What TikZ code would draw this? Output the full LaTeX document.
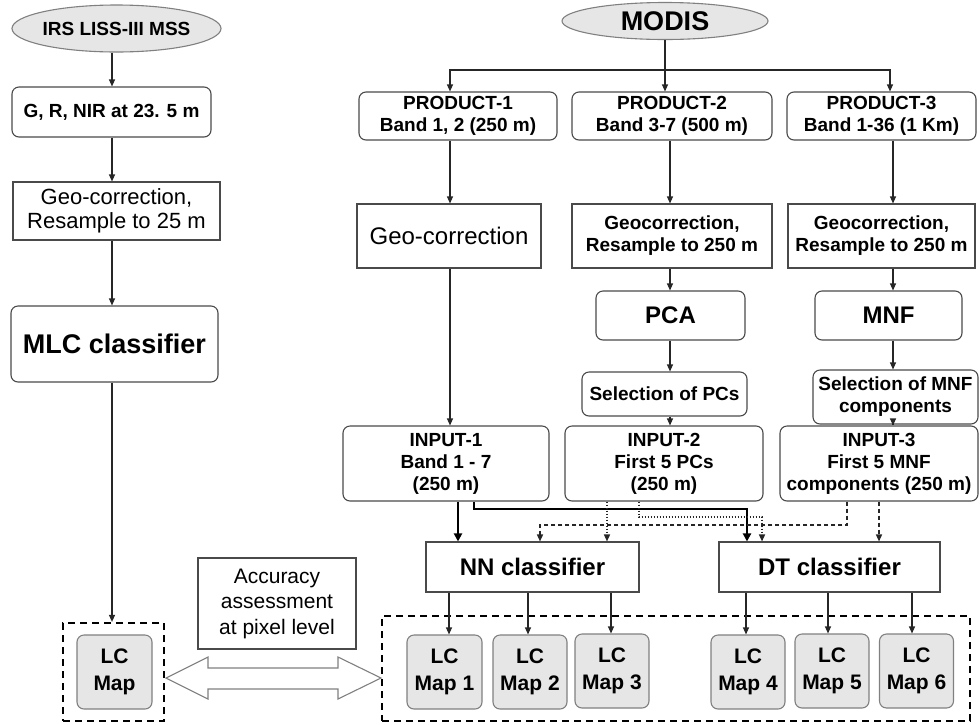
\documentclass[tikz,border=0pt]{standalone}
\usepackage{fontspec}
\setmainfont{Liberation Sans}
\usetikzlibrary{arrows.meta,shapes.geometric}
\definecolor{bd}{HTML}{4A4A4A}
\definecolor{fillg}{HTML}{E6E6E6}
\definecolor{ovalbd}{HTML}{808080}
\begin{document}
\begin{tikzpicture}[x=1pt,y=-1pt,
  base/.style={draw=bd, line width=1.1pt, inner sep=0pt, align=center, text=black},
  rbox/.style={base, rounded corners=7pt},
  sbox/.style={base},
  fb/.style={font=\bfseries\fontsize{19}{22}\selectfont},
  fr/.style={font=\fontsize{22}{24}\selectfont},
  oval/.style={base, ellipse, fill=fillg, draw=ovalbd},
  lcmap/.style={base, rounded corners=7pt, fill=fillg, draw=ovalbd,
    font=\bfseries\fontsize{21}{27}\selectfont, minimum width=74pt, minimum height=74pt},
  arr/.style={draw=black!85, line width=1.2pt, -{Triangle[length=7pt,width=6pt]}},
  plain/.style={draw=black!85, line width=1.2pt},
  tarr/.style={draw=black, line width=2.8pt, -{Triangle[length=8pt,width=8pt]}},
  dotarr/.style={draw=black!85, line width=1.4pt, dash pattern=on 1.4pt off 1.6pt, -{Triangle[length=7pt,width=6pt]}},
  dasharr/.style={draw=black!85, line width=1.4pt, dash pattern=on 4pt off 3pt, -{Triangle[length=7pt,width=6pt]}},
  grp/.style={draw=black, line width=2.2pt, dash pattern=on 7pt off 5pt, inner sep=0pt}
]
\useasboundingbox (0,0) rectangle (980,724);

% ---------- left column ----------
\node[oval, minimum width=207pt, minimum height=47pt, fb] (irs) at (116.5,28.5) {IRS LISS-III MSS};
\node[rbox, fb, minimum width=199pt, minimum height=50pt] (grn) at (111.5,112) {G, R, NIR at 23. 5 m};
\node[sbox, fr, minimum width=207pt, minimum height=58pt] (geol) at (116.5,211) {Geo-correction,\\Resample to 25 m};
\node[rbox, font=\bfseries\fontsize{27}{30}\selectfont, minimum width=207pt, minimum height=76pt] (mlc) at (114.5,344) {MLC classifier};
\node[grp, minimum width=101pt, minimum height=98pt] (lcl) at (113.5,672) {};
\node[lcmap, minimum width=75pt] (lcm) at (114.5,672) {LC\\Map};
\node[sbox, font=\fontsize{21}{25.5}\selectfont, minimum width=158pt, minimum height=91pt] (acc) at (277,603.5) {Accuracy\\assessment\\at pixel level};

\draw[arr] (112,0 |- irs.south) -- (112,0 |- grn.north);
\draw[arr] (112,0 |- grn.south) -- (112,0 |- geol.north);
\draw[arr] (112,0 |- geol.south) -- (112,0 |- mlc.north);
\draw[arr] (112,0 |- mlc.south) -- (112,0 |- lcl.north);

% ---------- right part ----------
\node[oval, minimum width=206pt, minimum height=37pt, font=\bfseries\fontsize{27}{30}\selectfont] (modis) at (665,21) {MODIS};
\node[rbox, fb, minimum width=198pt, minimum height=48pt] (p1) at (458,116) {PRODUCT-1\\Band 1, 2 (250 m)};
\node[rbox, fb, minimum width=200pt, minimum height=48pt] (p2) at (672,116) {PRODUCT-2\\Band 3-7 (500 m)};
\node[rbox, fb, minimum width=189pt, minimum height=48pt] (p3) at (881.5,116) {PRODUCT-3\\Band 1-36 (1 Km)};

\node[sbox, font=\fontsize{24}{27}\selectfont, minimum width=184pt, minimum height=64pt] (g1) at (449,236) {Geo-correction};
\node[sbox, fb, minimum width=200pt, minimum height=64pt] (g2) at (672,236) {Geocorrection,\\Resample to 250 m};
\node[sbox, fb, minimum width=187pt, minimum height=64pt] (g3) at (881.5,236) {Geocorrection,\\Resample to 250 m};

\node[rbox, font=\bfseries\fontsize{24}{27}\selectfont, minimum width=149pt, minimum height=49pt] (pca) at (670.5,315.5) {PCA};
\node[rbox, font=\bfseries\fontsize{24}{27}\selectfont, minimum width=147pt, minimum height=49pt] (mnf) at (888.5,315.5) {MNF};
\node[rbox, fb, minimum width=165pt, minimum height=44pt] (sp) at (664.5,394) {Selection of PCs};
\node[rbox, fb, minimum width=165pt, minimum height=54pt] (sm) at (895.5,397) {Selection of MNF\\components};

\node[rbox, fb, minimum width=206pt, minimum height=75pt] (in1) at (446,463.5) {INPUT-1\\Band 1 - 7\\(250 m)};
\node[rbox, fb, minimum width=198pt, minimum height=75pt] (in2) at (664,463.5) {INPUT-2\\First 5 PCs\\(250 m)};
\node[rbox, fb, minimum width=198pt, minimum height=75pt] (in3) at (879,463.5) {INPUT-3\\First 5 MNF\\components (250 m)};

\node[sbox, font=\bfseries\fontsize{24}{27}\selectfont, minimum width=213pt, minimum height=50pt] (nn) at (532.5,567) {NN classifier};
\node[sbox, font=\bfseries\fontsize{24}{27}\selectfont, minimum width=221pt, minimum height=50pt] (dt) at (829.5,567) {DT classifier};

\node[grp, minimum width=588pt, minimum height=105pt] (lcr) at (676,668.5) {};
\node[lcmap, minimum width=75pt] (m1) at (444.5,672) {LC\\Map 1};
\node[lcmap] (m2) at (530,672) {LC\\Map 2};
\node[lcmap] (m3) at (612,671) {LC\\Map 3};
\node[lcmap] (m4) at (748,672) {LC\\Map 4};
\node[lcmap] (m5) at (832,671) {LC\\Map 5};
\node[lcmap] (m6) at (916.5,671) {LC\\Map 6};

% MODIS fan-out
\coordinate (bar) at (665,70);
\draw[plain] (modis.south) -- (bar);
\draw[arr] (bar) -- (665,0 |- p2.north);
\draw[arr] (bar) -| (450,0 |- p1.north);
\draw[arr] (bar) -| (890,0 |- p3.north);

% column 1
\draw[arr] (450,0 |- p1.south) -- (450,0 |- g1.north);
\draw[arr] (450,0 |- g1.south) -- (450,0 |- in1.north);
% column 2
\draw[arr] (670,0 |- p2.south) -- (670,0 |- g2.north);
\draw[arr] (670,0 |- g2.south) -- (670,0 |- pca.north);
\draw[arr] (670,0 |- pca.south) -- (670,0 |- sp.north);
\draw[arr] (670,0 |- sp.south) -- (670,0 |- in2.north);
% column 3
\draw[arr] (893,0 |- p3.south) -- (893,0 |- g3.north);
\draw[arr] (893,0 |- g3.south) -- (893,0 |- mnf.north);
\draw[arr] (893,0 |- mnf.south) -- (893,0 |- sm.north);
\draw[arr] (893,0 |- sm.south) -- (893,0 |- in3.north);

% inputs to classifiers
\draw[tarr] (458,0 |- in1.south) -- (458,0 |- nn.north);
\draw[tarr] (474,0 |- in1.south) |- (747,509) -- (747,0 |- dt.north);
\draw[dotarr] (607,0 |- in2.south) -- (607,0 |- nn.north);
\draw[dotarr] (639,0 |- in2.south) |- (762,517) -- (762,0 |- dt.north);
\draw[dasharr] (847,0 |- in3.south) |- (540,525) -- (540,0 |- nn.north);
\draw[dasharr] (879,0 |- in3.south) -- (879,0 |- dt.north);

% classifiers to maps
\draw[arr] (449,0 |- nn.south) -- (449,0 |- m1.north);
\draw[arr] (528,0 |- nn.south) -- (528,0 |- m2.north);
\draw[arr] (611,0 |- nn.south) -- (611,0 |- m3.north);
\draw[arr] (746,0 |- dt.south) -- (746,0 |- m4.north);
\draw[arr] (828,0 |- dt.south) -- (828,0 |- m5.north);
\draw[arr] (912,0 |- dt.south) -- (912,0 |- m6.north);

% accuracy double arrow
\draw[draw=ovalbd, line width=1.1pt, fill=white]
  (166,678) -- (208,657) -- (208,668) -- (338,668) -- (338,657) -- (381,678)
  -- (338,699) -- (338,689) -- (208,689) -- (208,699) -- cycle;
\end{tikzpicture}
\end{document}
